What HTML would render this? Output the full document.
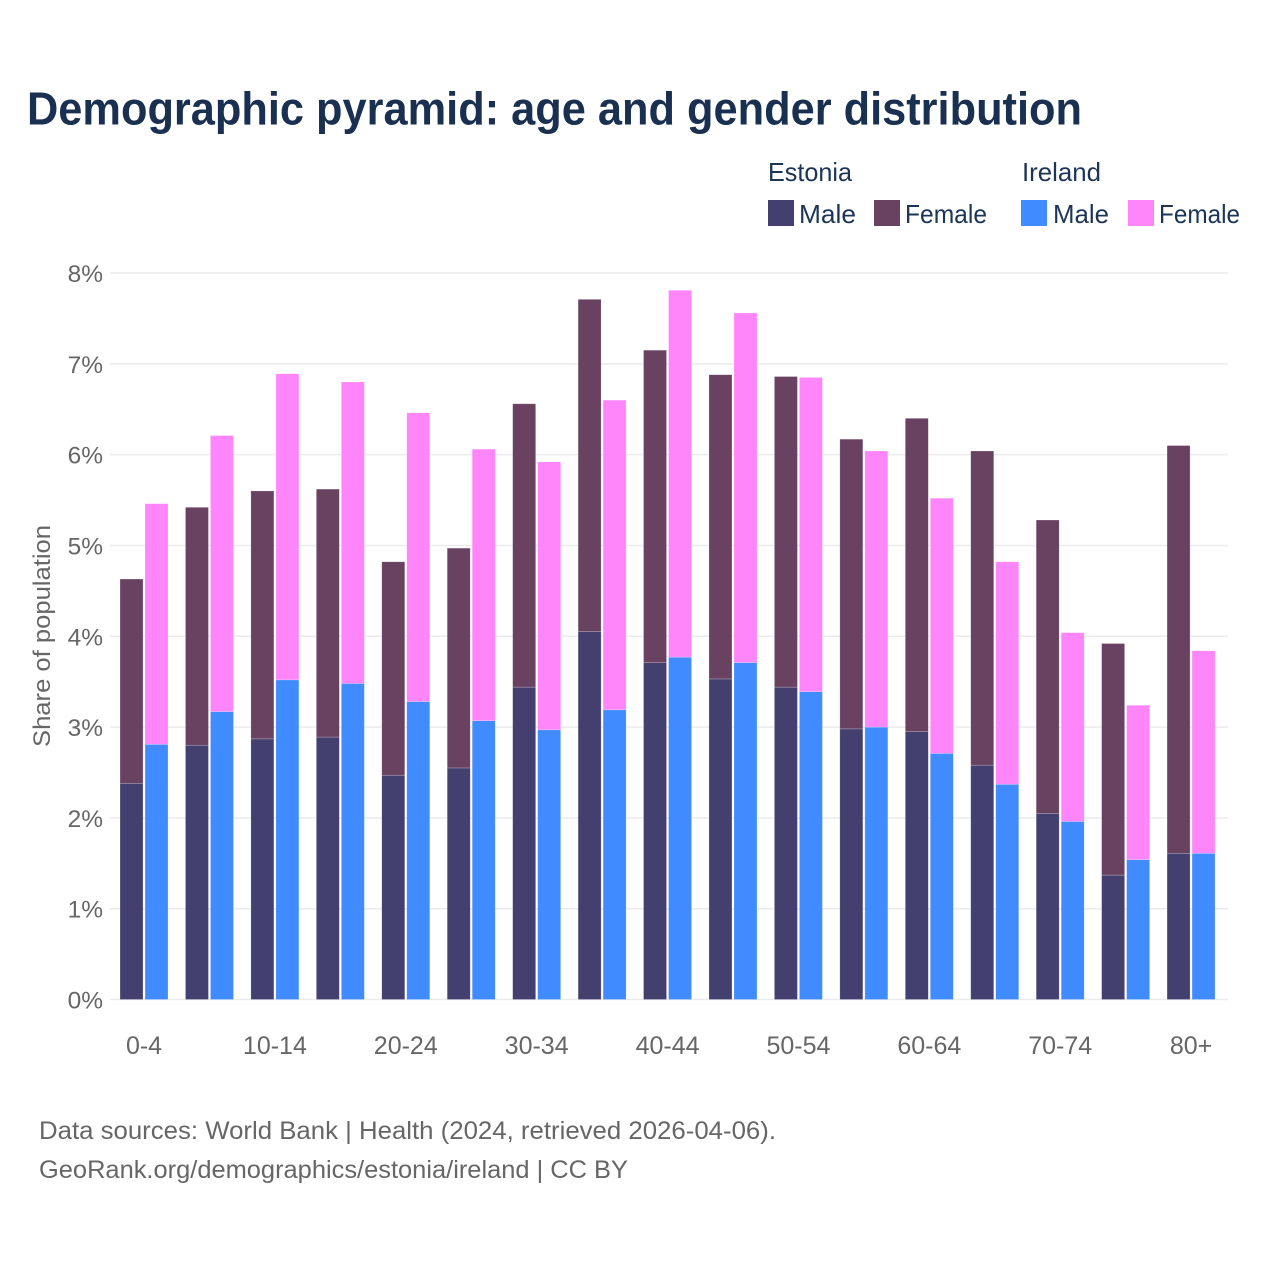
<!DOCTYPE html>
<html lang="en">
<head>
<meta charset="utf-8">
<title>Demographic pyramid: age and gender distribution</title>
<style>
html,body{margin:0;padding:0;background:#fff;}
svg{display:block;font-family:"Liberation Sans",sans-serif;}
</style>
</head>
<body>
<svg id="chart" width="1280" height="1280" viewBox="0 0 1280 1280" xmlns="http://www.w3.org/2000/svg">
  <rect x="0" y="0" width="1280" height="1280" fill="#ffffff"/>
  <text x="27" y="124.5" font-size="46" font-weight="700" fill="#1a3050" textLength="1055" lengthAdjust="spacingAndGlyphs">Demographic pyramid: age and gender distribution</text>

  <g font-size="26" fill="#1c3557">
    <text x="768" y="181" textLength="84" lengthAdjust="spacingAndGlyphs">Estonia</text>
    <text x="1022" y="181" textLength="79" lengthAdjust="spacingAndGlyphs">Ireland</text>
    <rect x="768" y="200" width="26" height="26" fill="#433f6f"/>
    <text x="799" y="223" textLength="57" lengthAdjust="spacingAndGlyphs">Male</text>
    <rect x="874" y="200" width="26" height="26" fill="#694262"/>
    <text x="905" y="223" textLength="82" lengthAdjust="spacingAndGlyphs">Female</text>
    <rect x="1021" y="200" width="26" height="26" fill="#408bff"/>
    <text x="1053" y="223" textLength="56" lengthAdjust="spacingAndGlyphs">Male</text>
    <rect x="1128" y="200" width="26" height="26" fill="#ff85fb"/>
    <text x="1159" y="223" textLength="81" lengthAdjust="spacingAndGlyphs">Female</text>
  </g>

  <g id="grid"></g>
  <g id="y-axis"></g>
  <g id="bars"></g>
  <g id="x-axis"></g>

  <text transform="translate(50,636) rotate(-90)" text-anchor="middle" font-size="24" fill="#666666" textLength="222" lengthAdjust="spacingAndGlyphs">Share of population</text>

  <text x="39" y="1139" font-size="25" fill="#666666" textLength="737" lengthAdjust="spacingAndGlyphs">Data sources: World Bank | Health (2024, retrieved 2026-04-06).</text>
  <text x="39" y="1178" font-size="25" fill="#666666" textLength="589" lengthAdjust="spacingAndGlyphs">GeoRank.org/demographics/estonia/ireland | CC BY</text>
</svg>
<script>
const categories = ["0-4","5-9","10-14","15-19","20-24","25-29","30-34","35-39","40-44","45-49","50-54","55-59","60-64","65-69","70-74","75-79","80+"];
const estoniaMale = [2.38,2.80,2.87,2.89,2.47,2.55,3.44,4.05,3.71,3.53,3.44,2.98,2.95,2.58,2.05,1.37,1.61];
const estoniaFemale = [2.25,2.62,2.73,2.73,2.35,2.42,3.12,3.66,3.44,3.35,3.42,3.19,3.45,3.46,3.23,2.55,4.49];
const irelandMale = [2.81,3.17,3.52,3.48,3.28,3.07,2.97,3.19,3.77,3.71,3.39,3.00,2.71,2.37,1.96,1.54,1.61];
const irelandFemale = [2.65,3.04,3.37,3.32,3.18,2.99,2.95,3.41,4.04,3.85,3.46,3.04,2.81,2.45,2.08,1.70,2.23];
const yTicks = [0,1,2,3,4,5,6,7,8];

const NS = "http://www.w3.org/2000/svg";
const plotLeft = 110, plotRight = 1228;
const yZero = 999.5, yMax = 273, yDomainMax = 8;
const bandStart = 111.3, bandStep = 65.44;
const barWidth = 23, barGap = 2;

function yScale(v) { return yZero - (v / yDomainMax) * (yZero - yMax); }
function xBand(i) { return bandStart + bandStep * i + bandStep / 2; }

const grid = document.getElementById("grid");
const yAxis = document.getElementById("y-axis");
const xAxis = document.getElementById("x-axis");
const bars = document.getElementById("bars");

yTicks.forEach(function (t) {
  const line = document.createElementNS(NS, "line");
  
  
  line.setAttribute("x1", plotLeft);
  line.setAttribute("x2", plotRight);
  line.setAttribute("y1", yScale(t));
  line.setAttribute("y2", yScale(t));
  line.setAttribute("stroke", "#ebebeb");
  line.setAttribute("stroke-width", "1.5");
  grid.appendChild(line);

  const label = document.createElementNS(NS, "text");
  
  
  label.setAttribute("x", 103);
  label.setAttribute("y", yScale(t) + 9);
  label.setAttribute("text-anchor", "end");
  label.setAttribute("font-size", "24.5");
  label.setAttribute("fill", "#666666");
  label.textContent = t + "%";
  yAxis.appendChild(label);
});

function drawBar(x, base, value, color, name) {
  const rect = document.createElementNS(NS, "rect");
  
  
  rect.setAttribute("x", x);
  rect.setAttribute("y", yScale(base + value));
  rect.setAttribute("width", barWidth);
  rect.setAttribute("height", yScale(base) - yScale(base + value));
  rect.setAttribute("fill", color);
  rect.setAttribute("stroke", "#ffffff");
  rect.setAttribute("stroke-opacity", "0.35");
  rect.setAttribute("stroke-width", "0.6");
  bars.appendChild(rect);
}

categories.forEach(function (cat, i) {
  const c = xBand(i);
  const left = c - barGap / 2 - barWidth;
  const right = c + barGap / 2;
  drawBar(left, 0, estoniaMale[i], "#433f6f", "bar-estonia-male");
  drawBar(left, estoniaMale[i], estoniaFemale[i], "#694262", "bar-estonia-female");
  drawBar(right, 0, irelandMale[i], "#408bff", "bar-ireland-male");
  drawBar(right, irelandMale[i], irelandFemale[i], "#ff85fb", "bar-ireland-female");

  if (i % 2 === 0) {
    const label = document.createElementNS(NS, "text");
    
    
    label.setAttribute("x", c);
    label.setAttribute("y", 1054);
    label.setAttribute("text-anchor", "middle");
    label.setAttribute("font-size", "25");
    label.setAttribute("fill", "#666666");
    label.textContent = cat;
    xAxis.appendChild(label);
  }
});
</script>
</body>
</html>
